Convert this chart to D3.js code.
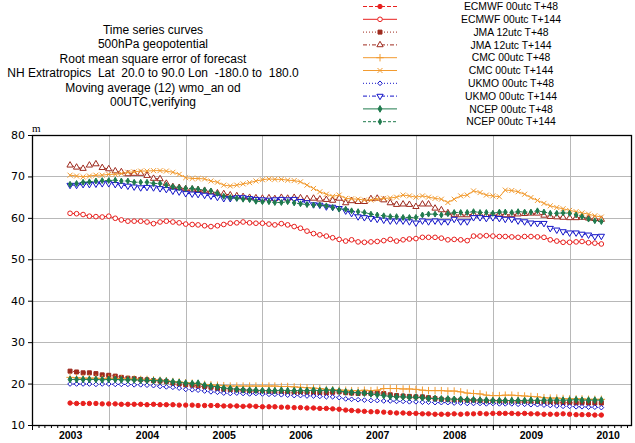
<!DOCTYPE html>
<meta charset="utf-8">
<style>
    body { margin: 0; background: #fff; }
    svg text { font-family: "Liberation Sans", Arial, sans-serif; fill: #000; }
    .title text { font-size: 12px; white-space: pre; }
    .legend text { font-size: 10.4px; }
    .grid line { stroke: #b8b8b8; stroke-width: 1; }
    .axis path { display: none; }
    .axis line { stroke: #000; }
    .axis--y text { font-family: "DejaVu Sans", sans-serif; font-size: 11px; }
    .axis--x text { font-size: 10.5px; font-weight: bold; }
</style>
<svg width="635" height="443"></svg>
<script src="https://d3js.org/d3.v7.min.js"></script>
<script>

    // monthly points, Jul 2003 .. Jun 2010 (one row = 12 months)
    var firstMonth = [2003, 7],
        nMonths = 84;

    var ecmwf48 = [
        15.3, 15.2, 15.2, 15.2, 15.2, 15.1, 15.1, 15.1, 15.0, 15.0, 15.0, 15.0,
        14.9, 15.0, 14.9, 14.9, 14.9, 14.8, 14.8, 14.8, 14.7, 14.7, 14.7, 14.7,
        14.6, 14.6, 14.6, 14.5, 14.6, 14.5, 14.4, 14.4, 14.4, 14.3, 14.3, 14.2,
        14.2, 14.1, 14.1, 14.0, 14.0, 13.9, 13.8, 13.6, 13.5, 13.4, 13.3, 13.2,
        13.2, 13.1, 13.0, 12.9, 12.9, 12.8, 12.8, 12.7, 12.7, 12.6, 12.6, 12.6,
        12.7, 12.6, 12.7, 12.7, 12.8, 12.7, 12.8, 12.8, 12.8, 12.8, 12.7, 12.8,
        12.7, 12.7, 12.6, 12.6, 12.6, 12.7, 12.6, 12.5, 12.5, 12.5, 12.4, 12.4];

    var ecmwf144 = [
        61.1, 61.0, 60.8, 60.4, 60.3, 60.2, 60.4, 59.9, 59.5, 59.2, 59.2, 59.2,
        59.0, 58.6, 59.0, 59.2, 59.0, 58.8, 58.5, 58.4, 58.3, 58.1, 57.9, 58.1,
        58.4, 58.7, 58.8, 59.0, 58.8, 58.7, 58.7, 58.5, 58.3, 58.6, 58.3, 57.9,
        57.5, 56.8, 56.2, 55.9, 55.6, 55.2, 54.8, 54.4, 54.7, 54.2, 54.1, 54.2,
        54.3, 54.5, 54.8, 54.4, 54.7, 54.9, 55.0, 55.3, 55.3, 55.3, 55.1, 54.7,
        54.8, 54.7, 54.5, 55.6, 55.6, 55.7, 55.6, 55.5, 55.5, 55.4, 55.3, 55.5,
        55.5, 55.4, 55.3, 54.7, 54.4, 54.1, 54.1, 54.2, 54.3, 54.0, 53.9, 53.7];

    var jma48 = [
        23.0, 22.8, 22.6, 22.6, 22.4, 22.1, 22.0, 21.8, 21.5, 21.3, 21.2, 21.0,
        20.9, 20.7, 20.6, 20.5, 20.1, 19.9, 19.7, 19.6, 19.4, 19.3, 19.1, 18.8,
        18.6, 18.5, 18.4, 18.3, 18.2, 18.1, 18.0, 18.0, 17.9, 17.9, 17.8, 17.8,
        17.9, 17.9, 17.8, 17.8, 17.7, 17.9, 18.0, 17.8, 17.7, 17.6, 17.7, 17.6,
        17.8, 17.6, 17.3, 17.1, 17.0, 16.9, 16.8, 16.8, 16.6, 16.4, 16.2, 16.1,
        16.0, 16.0, 15.9, 15.9, 15.8, 15.7, 15.7, 15.6, 15.6, 15.5, 15.6, 15.5,
        15.5, 15.5, 15.4, 15.4, 15.5, 15.4, 15.4, 15.3, 15.4, 15.3, 15.3, 15.3];

    var jma144 = [
        72.7, 72.2, 71.9, 72.7, 73.0, 72.1, 71.8, 71.3, 71.1, 70.6, 70.7, 70.7,
        70.2, 69.5, 69.4, 68.3, 67.5, 67.3, 67.0, 66.9, 66.8, 66.6, 66.3, 66.0,
        65.8, 65.5, 65.3, 65.1, 64.9, 64.8, 64.7, 64.8, 64.6, 64.9, 64.7, 64.9,
        64.8, 64.6, 64.7, 64.5, 64.4, 64.2, 64.7, 63.6, 64.1, 63.9, 63.9, 64.6,
        64.7, 64.3, 63.6, 63.2, 63.3, 63.2, 62.7, 63.3, 63.3, 62.3, 61.9, 61.2,
        60.8, 60.7, 60.7, 60.9, 60.8, 60.6, 60.8, 60.9, 60.7, 60.8, 60.9, 61.0,
        61.1, 61.1, 60.6, 60.3, 60.2, 60.1, 60.0, 60.0, 60.1, 59.9, 59.8, 59.6];

    var cmc48 = [
        21.5, 21.4, 21.3, 21.3, 21.3, 21.2, 21.3, 21.2, 21.2, 21.1, 21.1, 21.0,
        21.0, 20.9, 20.8, 20.7, 20.5, 20.4, 20.2, 20.1, 19.9, 19.8, 19.7, 19.6,
        19.5, 19.4, 19.4, 19.4, 19.4, 19.4, 19.4, 19.4, 19.4, 19.3, 19.3, 19.2,
        19.1, 19.0, 18.9, 18.8, 18.6, 18.5, 18.4, 18.4, 18.3, 18.3, 18.4, 18.3,
        18.4, 18.8, 18.8, 18.8, 18.7, 18.7, 18.6, 18.4, 18.3, 18.3, 18.3, 18.2,
        18.2, 18.0, 17.7, 17.6, 17.5, 17.2, 17.1, 17.1, 17.2, 17.2, 17.1, 17.0,
        16.9, 16.8, 16.6, 16.5, 16.5, 16.4, 16.3, 16.3, 16.3, 16.2, 16.2, 16.2];

    var cmc144 = [
        70.3, 70.1, 69.9, 70.1, 70.3, 70.3, 70.5, 70.5, 70.7, 71.0, 71.1, 71.3,
        71.3, 71.4, 71.4, 71.3, 71.0, 70.5, 69.7, 69.5, 69.5, 69.4, 68.9, 68.6,
        67.9, 67.7, 67.9, 68.2, 68.5, 68.9, 69.2, 69.4, 69.3, 69.3, 69.1, 69.0,
        68.7, 67.9, 67.1, 66.3, 65.7, 65.2, 65.5, 64.7, 64.6, 64.5, 64.3, 64.3,
        64.5, 64.7, 64.8, 65.0, 65.5, 65.3, 65.0, 65.3, 65.0, 64.7, 64.5, 63.7,
        64.5, 65.3, 65.5, 66.5, 66.1, 65.5, 65.3, 65.1, 66.7, 66.6, 66.3, 65.7,
        64.9, 64.2, 63.5, 62.9, 62.5, 62.2, 61.8, 61.5, 61.2, 60.9, 60.5, 60.2];

    var ukmo48 = [
        19.9, 19.9, 19.9, 19.9, 19.8, 19.9, 19.9, 19.8, 19.8, 19.8, 19.7, 19.7,
        19.6, 19.5, 19.3, 19.2, 19.1, 18.9, 18.6, 18.5, 18.4, 18.2, 18.0, 17.9,
        17.7, 17.6, 17.7, 17.6, 17.5, 17.6, 17.5, 17.4, 17.4, 17.3, 17.2, 17.1,
        17.1, 17.0, 17.0, 16.9, 16.8, 16.8, 16.6, 16.3, 16.2, 16.1, 16.0, 15.9,
        15.9, 15.8, 15.8, 15.7, 15.7, 15.6, 15.6, 15.5, 15.5, 15.4, 15.4, 15.4,
        15.3, 15.3, 15.2, 15.2, 15.2, 15.1, 15.2, 15.1, 15.1, 15.1, 15.0, 15.0,
        14.9, 14.9, 14.8, 14.7, 14.6, 14.5, 14.5, 14.4, 14.4, 14.3, 14.3, 14.2];

    var ukmo144 = [
        67.9, 67.9, 68.1, 68.1, 68.2, 68.3, 68.3, 68.1, 67.9, 67.7, 67.5, 67.3,
        67.4, 67.3, 67.1, 66.9, 66.5, 66.3, 65.9, 65.8, 65.7, 65.5, 65.3, 65.0,
        64.7, 64.7, 64.9, 64.9, 64.7, 64.5, 64.4, 64.3, 64.4, 64.5, 64.4, 64.5,
        64.0, 63.7, 63.2, 63.1, 62.7, 62.6, 62.3, 61.7, 61.1, 60.3, 60.1, 59.9,
        59.7, 59.5, 59.3, 59.3, 59.3, 59.1, 58.8, 59.3, 59.1, 59.3, 59.1, 59.1,
        59.7, 59.1, 59.1, 60.1, 60.1, 59.9, 60.1, 59.9, 59.7, 59.7, 59.3, 59.1,
        58.8, 58.7, 58.7, 57.5, 57.1, 56.7, 56.4, 56.4, 56.1, 55.9, 55.5, 55.6];

    var ncep48 = [
        21.0, 21.0, 21.0, 21.0, 21.0, 20.9, 21.0, 21.0, 20.9, 20.9, 20.9, 20.8,
        20.8, 20.7, 20.7, 20.6, 20.4, 20.3, 20.1, 20.0, 20.1, 19.6, 19.4, 19.2,
        18.9, 18.8, 18.6, 18.5, 18.4, 18.4, 18.3, 18.3, 18.3, 18.4, 18.3, 18.3,
        18.3, 18.3, 18.4, 18.3, 18.4, 18.4, 18.2, 18.0, 17.9, 17.8, 17.7, 17.5,
        17.3, 17.1, 16.9, 16.8, 16.8, 16.7, 16.7, 16.6, 16.4, 16.4, 16.3, 16.3,
        16.2, 16.2, 16.1, 16.1, 16.0, 16.0, 15.9, 15.9, 15.9, 15.9, 15.9, 15.9,
        16.0, 15.9, 16.0, 16.0, 16.0, 16.0, 16.0, 16.1, 16.0, 16.0, 16.0, 16.0];

    var ncep144 = [
        68.1, 68.3, 68.6, 68.7, 68.9, 69.0, 69.0, 69.1, 68.9, 68.9, 68.6, 68.6,
        68.6, 68.3, 68.3, 67.9, 67.5, 67.3, 67.1, 67.1, 66.9, 66.7, 66.5, 65.9,
        65.2, 64.9, 64.7, 64.5, 64.4, 64.0, 63.9, 63.9, 63.7, 63.7, 63.9, 63.6,
        63.4, 63.2, 63.1, 63.1, 62.9, 62.5, 62.1, 62.1, 61.7, 61.5, 61.3, 60.9,
        60.7, 60.5, 60.3, 60.3, 60.1, 60.1, 60.1, 60.7, 60.9, 60.9, 60.7, 61.0,
        61.3, 61.3, 61.3, 61.5, 61.3, 61.3, 61.1, 61.4, 61.4, 61.3, 61.5, 61.4,
        61.4, 61.7, 61.4, 61.1, 61.1, 61.2, 61.1, 60.7, 60.3, 59.7, 59.3, 59.1];

    var seriesNames = ["ECMWF 00utc T+48", "ECMWF 00utc T+144", "JMA 12utc T+48", "JMA 12utc T+144",
        "CMC 00utc T+48", "CMC 00utc T+144", "UKMO 00utc T+48", "UKMO 00utc T+144",
        "NCEP 00utc T+48", "NCEP 00utc T+144"];
    var seriesValues = [ecmwf48, ecmwf144, jma48, jma144, cmc48, cmc144, ukmo48, ukmo144, ncep48, ncep144];

    var titleLines = ["Time series curves", "500hPa geopotential", "Root mean square error of forecast",
        "NH Extratropics  Lat  20.0 to 90.0 Lon  -180.0 to  180.0", "Moving average (12) wmo_an od",
        "00UTC,verifying"];
    var yTicks = [10, 20, 30, 40, 50, 60, 70, 80];
    var yearLabels = ["2003", "2004", "2005", "2006", "2007", "2008", "2009", "2010"];

    // drawing styles per series
    var red = "#e8201e", maroon = "#9e2a1e", orange = "#f29b30", blue = "#1414c8", green = "#1f7a4d";
    var styles = [
        {color: red, dash: "4,2", sym: d3.symbolCircle, size: 15, fill: true},
        {color: red, dash: null, sym: d3.symbolCircle, size: 17, fill: false},
        {color: maroon, dash: "1,2", sym: d3.symbolSquare, size: 16, fill: true},
        {color: maroon, dash: "4,2,1,2", sym: d3.symbolTriangle, size: 17, fill: false},
        {color: orange, dash: null, sym: d3.symbolPlus, size: 20, fill: false},
        {color: orange, dash: null, sym: d3.symbolTimes, size: 18, fill: false},
        {color: blue, dash: "1,2", sym: d3.symbolDiamond2, size: 14, fill: false},
        {color: blue, dash: "4,2,1,2", sym: d3.symbolTriangle, size: 17, fill: false, flip: true},
        {color: green, dash: null, sym: d3.symbolDiamond, size: 13, fill: true},
        {color: green, dash: "3,2", sym: d3.symbolDiamond, size: 10, fill: true}
    ];

    var svg = d3.select("svg"),
        plotLeft = 32, plotRight = 631, plotTop = 135, plotBottom = 425;

    var start = new Date(Date.UTC(firstMonth[0], firstMonth[1] - 1, 1));
    var months = d3.range(nMonths).map(function(i) { return d3.utcMonth.offset(start, i); });

    var x = d3.scaleUtc()
        .domain([new Date(Date.UTC(2003, 0, 1)), new Date(Date.UTC(2010, 9, 20))])
        .range([plotLeft, plotRight]);
    var y = d3.scaleLinear().domain([10, 80]).range([plotBottom, plotTop]);

    var years = yearLabels.map(function(d) { return new Date(Date.UTC(+d, 0, 1)); });

    // grid
    var grid = svg.append("g").attr("class", "grid");
    grid.selectAll(".gy").data(yTicks.slice(1, -1)).enter().append("line")
        .attr("x1", plotLeft).attr("x2", plotRight)
        .attr("y1", function(d) { return Math.round(y(d)) + 0.5; })
        .attr("y2", function(d) { return Math.round(y(d)) + 0.5; });
    grid.selectAll(".gx").data(years.slice(1)).enter().append("line")
        .attr("y1", plotTop).attr("y2", plotBottom)
        .attr("x1", function(d) { return Math.round(x(d)) + 0.5; })
        .attr("x2", function(d) { return Math.round(x(d)) + 0.5; });

    // axes
    svg.append("g")
        .attr("class", "axis axis--y")
        .attr("transform", "translate(" + plotLeft + ",0)")
        .call(d3.axisLeft(y).tickValues(yTicks).tickSize(4).tickPadding(3));

    svg.append("g")
        .attr("class", "axis axis--x")
        .attr("transform", "translate(0," + plotBottom + ")")
        .call(d3.axisBottom(x).tickValues(d3.utcMonth.range(x.domain()[0], x.domain()[1]))
            .tickSize(3).tickFormat(""));
    svg.append("g")
        .attr("class", "axis axis--x")
        .attr("transform", "translate(0," + plotBottom + ")")
        .call(d3.axisBottom(x).tickValues(years).tickSize(5).tickFormat(""));
    svg.append("g")
        .attr("class", "axis axis--x")
        .attr("transform", "translate(0," + plotBottom + ")")
        .call(d3.axisBottom(x)
            .tickValues(years.map(function(d) { return d3.utcMonth.offset(d, 6); }))
            .tickSize(0).tickPadding(7)
            .tickFormat(function(d, i) { return yearLabels[i]; }));

    // frame
    svg.append("rect")
        .attr("x", plotLeft + 0.5).attr("y", plotTop + 0.5)
        .attr("width", plotRight - plotLeft).attr("height", plotBottom - plotTop)
        .attr("fill", "none").attr("stroke", "#000").attr("stroke-width", 1.3);

    svg.append("text")
        .attr("x", plotLeft).attr("y", 132)
        .style("font-family", "'Liberation Serif', serif").style("font-size", "11px")
        .text("m");

    // title
    svg.append("g").attr("class", "title")
        .selectAll("text").data(titleLines).enter().append("text")
        .attr("x", 153)
        .attr("y", function(d, i) { return 34 + i * 14.4; })
        .attr("text-anchor", "middle")
        .text(function(d) { return d; });

    function symbolPath(st) {
        return d3.symbol().type(st.sym).size(st.size)();
    }
    function symbolFill(st) {
        if (st.fill) return st.color;
        return (st.sym === d3.symbolPlus || st.sym === d3.symbolTimes) ? "none" : "#fff";
    }

    var line = d3.line()
        .x(function(d, i) { return x(months[i]); })
        .y(function(d) { return y(d); });

    // series
    seriesValues.forEach(function(vals, k) {
        var st = styles[k];
        var g = svg.append("g");
        g.append("path")
            .datum(vals)
            .attr("fill", "none")
            .attr("stroke", st.color)
            .attr("stroke-width", 1)
            .attr("stroke-dasharray", st.dash)
            .attr("d", line);
        g.selectAll(".pt").data(vals).enter().append("path")
            .attr("d", symbolPath(st))
            .attr("transform", function(d, i) {
                return "translate(" + x(months[i]) + "," + y(d) + ")" + (st.flip ? " rotate(180)" : "");
            })
            .attr("fill", symbolFill(st))
            .attr("stroke", st.color)
            .attr("stroke-width", 1);
    });

    // legend
    var legend = svg.append("g").attr("class", "legend");
    seriesNames.forEach(function(name, k) {
        var st = styles[k], ly = 6.5 + k * 12.8;
        legend.append("line")
            .attr("x1", 363).attr("x2", 397).attr("y1", ly).attr("y2", ly)
            .attr("stroke", st.color).attr("stroke-width", 1)
            .attr("stroke-dasharray", st.dash);
        legend.append("path")
            .attr("d", symbolPath(st))
            .attr("transform", "translate(380," + ly + ")" + (st.flip ? " rotate(180)" : ""))
            .attr("fill", symbolFill(st))
            .attr("stroke", st.color).attr("stroke-width", 1);
        legend.append("text")
            .attr("x", 511).attr("y", ly).attr("dy", "0.35em")
            .attr("text-anchor", "middle")
            .text(name);
    });
</script>
